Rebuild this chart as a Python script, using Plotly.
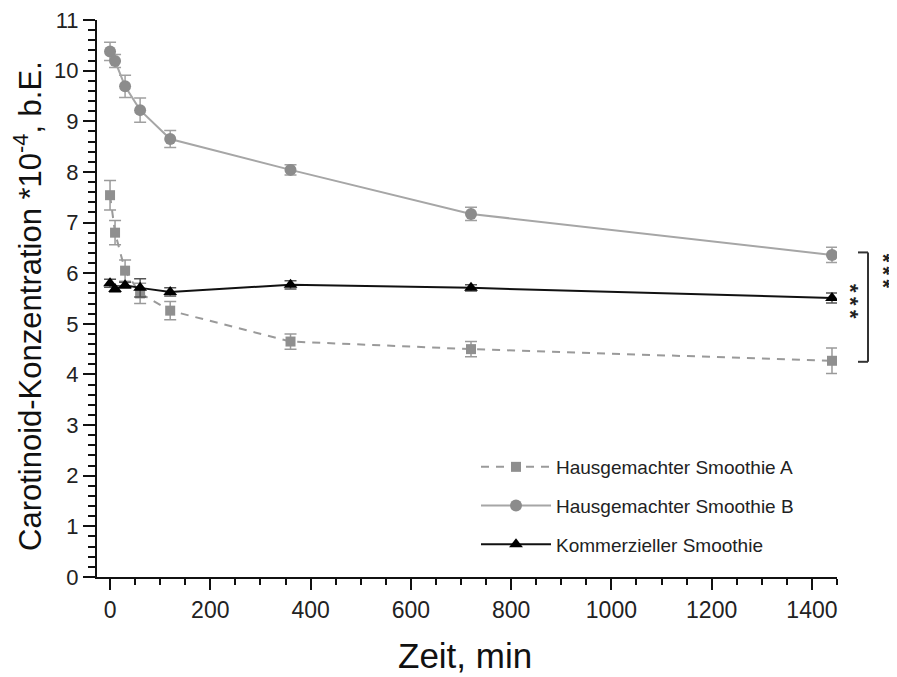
import plotly.graph_objects as go

# ---- data ----
zeit = [0, 10, 30, 60, 120, 360, 720, 1440]

smoothie_a = [7.54, 6.80, 6.05, 5.60, 5.26, 4.65, 4.50, 4.27]
smoothie_a_err = [0.29, 0.24, 0.21, 0.20, 0.18, 0.15, 0.15, 0.25]

smoothie_b = [10.38, 10.19, 9.69, 9.22, 8.65, 8.04, 7.17, 6.36]
smoothie_b_err = [0.18, 0.13, 0.22, 0.24, 0.17, 0.10, 0.13, 0.15]

kommerziell = [5.80, 5.69, 5.76, 5.71, 5.63, 5.77, 5.71, 5.51]
kommerziell_err = [0.08, 0.06, 0.06, 0.18, 0.08, 0.08, 0.06, 0.10]

names = ["Hausgemachter Smoothie A", "Hausgemachter Smoothie B", "Kommerzieller Smoothie"]

FONT = "Liberation Sans, Arial, sans-serif"

fig = go.Figure()

fig.add_trace(go.Scatter(
    x=zeit, y=smoothie_a, name=names[0], legendgroup="a",
    mode="lines+markers",
    line=dict(color="#9a9a9a", width=2, dash="8px,7px"),
    marker=dict(symbol="square", size=10, color="#8f8f8f"),
    error_y=dict(type="data", array=smoothie_a_err, color="#9a9a9a", thickness=1.5, width=6),
))
fig.add_trace(go.Scatter(
    x=zeit, y=smoothie_b, name=names[1], legendgroup="b",
    mode="lines+markers",
    line=dict(color="#a6a6a6", width=2),
    marker=dict(symbol="circle", size=12, color="#8c8c8c"),
    error_y=dict(type="data", array=smoothie_b_err, color="#a0a0a0", thickness=1.5, width=6),
))
fig.add_trace(go.Scatter(
    x=zeit, y=kommerziell, name=names[2], legendgroup="k",
    mode="lines+markers",
    line=dict(color="#111111", width=2),
    marker=dict(symbol="triangle-up", size=12, color="#000000"),
    error_y=dict(type="data", array=kommerziell_err, color="#555555", thickness=1.5, width=6),
))

# plot area spans page pixels x 97..837, y 20..577 (page has an 8px body margin)
def px2paper(px):
    return (px - 97) / 740.0

def py2paper(py):
    return (577 - py) / 557.0

br_col = "#333333"
shapes = []
# bracket 1 (B vs A)
shapes.append(dict(type="line", xref="paper", yref="y", x0=px2paper(858), x1=px2paper(868), y0=6.41, y1=6.41, line=dict(color=br_col, width=2)))
shapes.append(dict(type="line", xref="paper", yref="y", x0=px2paper(868), x1=px2paper(868), y0=6.41, y1=4.25, line=dict(color=br_col, width=2)))
shapes.append(dict(type="line", xref="paper", yref="y", x0=px2paper(858), x1=px2paper(868), y0=4.25, y1=4.25, line=dict(color=br_col, width=2)))
# bracket 2 (cut off at the right edge)
shapes.append(dict(type="line", xref="paper", yref="y", x0=px2paper(893), x1=px2paper(902), y0=6.41, y1=6.41, line=dict(color=br_col, width=2)))
shapes.append(dict(type="line", xref="paper", yref="y", x0=px2paper(893), x1=px2paper(902), y0=5.53, y1=5.53, line=dict(color=br_col, width=2)))

stars = "*\u2009*\u2009*"
annotations = [
    dict(text=stars, xref="paper", yref="y", x=px2paper(851), y=5.45, showarrow=False,
         textangle=90, font=dict(family=FONT, size=22, color="#222", weight="bold"), xanchor="center", yanchor="middle"),
    dict(text=stars, xref="paper", yref="y", x=px2paper(883), y=6.05, showarrow=False,
         textangle=90, font=dict(family=FONT, size=22, color="#222", weight="bold"), xanchor="center", yanchor="middle"),
    dict(text="Zeit, min", xref="paper", yref="paper", x=px2paper(465), y=py2paper(656),
         showarrow=False, font=dict(family=FONT, size=35, color="#111"), xanchor="center", yanchor="middle"),
    dict(text="Carotinoid-Konzentration *10<sup>-4</sup>, b.E.", xref="paper", yref="paper",
         x=px2paper(28), y=py2paper(306), showarrow=False, textangle=-90,
         font=dict(family=FONT, size=31, color="#111"), xanchor="center", yanchor="middle"),
]

fig.update_layout(
    width=889, height=669,
    margin=dict(l=89, r=60, t=12, b=100, autoexpand=False),
    paper_bgcolor="white", plot_bgcolor="white",
    font=dict(family=FONT, color="#222"),
    showlegend=True,
    legend=dict(x=px2paper(476), y=py2paper(448), xanchor="left", yanchor="top",
                bgcolor="rgba(0,0,0,0)", font=dict(family=FONT, size=19, color="#222"),
                itemwidth=70, tracegroupgap=11, traceorder="grouped"),
    shapes=shapes,
    annotations=annotations,
    xaxis=dict(range=[-26, 1450], showgrid=False, zeroline=False, automargin=False,
               showline=True, linecolor="#111", linewidth=2,
               tickmode="linear", tick0=0, dtick=200, ticks="outside", ticklen=11, tickwidth=2, tickcolor="#111",
               minor=dict(dtick=50, tick0=0, ticks="outside", ticklen=6, tickwidth=1.5, tickcolor="#111"),
               tickfont=dict(family=FONT, size=23, color="#222")),
    yaxis=dict(range=[0, 11], showgrid=False, zeroline=False, automargin=False,
               showline=True, linecolor="#111", linewidth=2, ticklabeloverflow="allow",
               tickmode="linear", tick0=0, dtick=1, ticks="outside", ticklen=12, tickwidth=2, tickcolor="#111",
               minor=dict(dtick=0.2, tick0=0, ticks="outside", ticklen=7, tickwidth=1.5, tickcolor="#111"),
               tickfont=dict(family=FONT, size=22, color="#222")),
)

fig.write_html("out.html")
